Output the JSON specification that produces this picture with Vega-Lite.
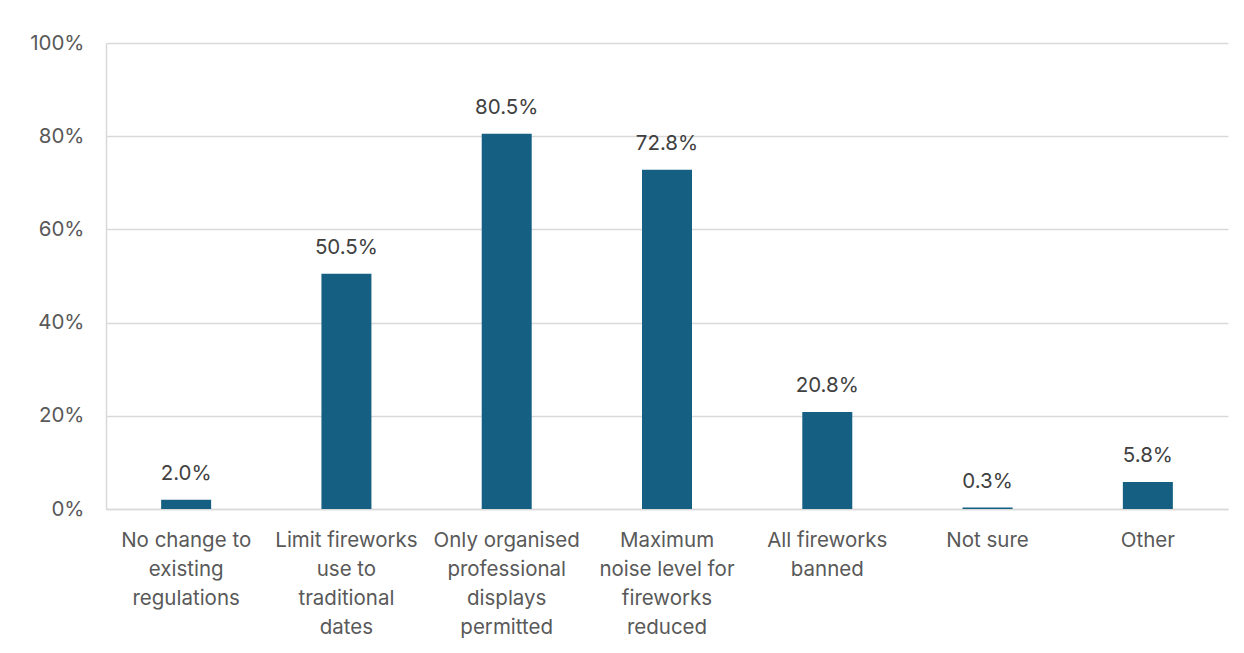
{
  "$schema": "https://vega.github.io/schema/vega-lite/v6.json",
  "width": 1122,
  "height": 466,
  "autosize": {"type": "none"},
  "padding": {"left": 106, "top": 43, "right": 16, "bottom": 144},
  "background": "white",
  "config": {
    "view": {"stroke": null},
    "font": "Inter"
  },
  "data": {
    "values": [
      {"option": "No change to existing regulations", "pct": 2.0},
      {"option": "Limit fireworks use to traditional dates", "pct": 50.5},
      {"option": "Only organised professional displays permitted", "pct": 80.5},
      {"option": "Maximum noise level for fireworks reduced", "pct": 72.8},
      {"option": "All fireworks banned", "pct": 20.8},
      {"option": "Not sure", "pct": 0.3},
      {"option": "Other", "pct": 5.8}
    ]
  },
  "encoding": {
    "x": {
      "field": "option",
      "type": "nominal",
      "sort": null,
      "title": null,
      "axis": {
        "labelAngle": 0,
        "labelFontSize": 20.5,
        "labelColor": "#595959",
        "labelPadding": 21,
        "labelLineHeight": 29,
        "labelBaseline": "top",
        "ticks": false,
        "domainColor": "#d9d9d9",
        "domainWidth": 1.5,
        "labelExpr": "{'No change to existing regulations': ['No change to','existing','regulations'], 'Limit fireworks use to traditional dates': ['Limit fireworks','use to','traditional','dates'], 'Only organised professional displays permitted': ['Only organised','professional','displays','permitted'], 'Maximum noise level for fireworks reduced': ['Maximum','noise level for','fireworks','reduced'], 'All fireworks banned': ['All fireworks','banned'], 'Not sure': ['Not sure'], 'Other': ['Other']}[datum.value]"
      }
    },
    "y": {
      "field": "pct",
      "type": "quantitative",
      "title": null,
      "scale": {"domain": [0, 100]},
      "axis": {
        "values": [0, 20, 40, 60, 80, 100],
        "labelExpr": "datum.value + '%'",
        "labelFontSize": 20.5,
        "labelColor": "#595959",
        "labelPadding": 22,
        "ticks": false,
        "gridColor": "#d9d9d9",
        "gridWidth": 1.5,
        "domainColor": "#d9d9d9",
        "domainWidth": 1.5
      }
    }
  },
  "layer": [
    {"mark": {"type": "bar", "size": 50, "color": "#156082"}},
    {
      "transform": [{"calculate": "format(datum.pct, '.1f') + '%'", "as": "label"}],
      "mark": {"type": "text", "baseline": "bottom", "dy": -16, "fontSize": 20.5, "color": "#404040"},
      "encoding": {"text": {"field": "label", "type": "nominal"}}
    }
  ]
}
